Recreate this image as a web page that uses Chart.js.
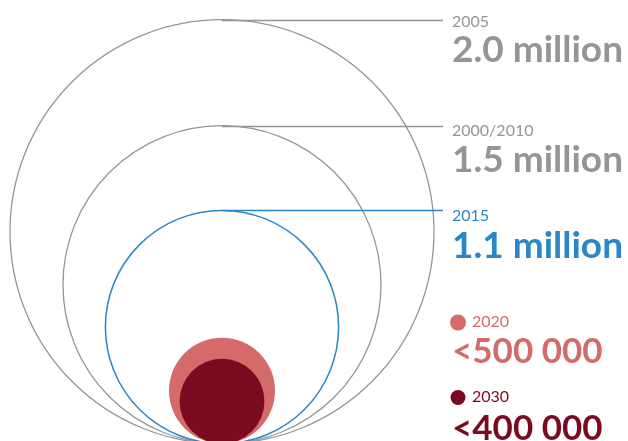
<!DOCTYPE html>
<html>
<head>
<meta charset="utf-8">
<script src="https://cdn.jsdelivr.net/npm/chart.js@4"></script>
<style>
  html, body { margin: 0; padding: 0; background: #fff; }
  #wrap { width: 628px; height: 441px; }
</style>
</head>
<body>
<div id="wrap"><canvas id="circles-chart" width="628" height="441"></canvas></div>
<script>
// data (values in millions)
const years = ['2005', '2000/2010', '2015', '2020', '2030'];
const values = [2.0, 1.5, 1.1, 0.5, 0.4];
const valueLabels = ['2.0 million', '1.5 million', '1.1 million', '<500 000', '<400 000'];

const GREY = '#949597';
const BLUE = '#2a86c6';
const LIGHT_RED = '#d56a6a';
const DARK_RED = '#7a0a1f';
const colors = [GREY, GREY, BLUE, LIGHT_RED, DARK_RED];

// pixels per million, same on both axes so circles stay round
const PX = 106;
const W = 628, H = 441, CX = 222;

// text baselines for the label column
const smallBase = [27, 136, 221, 327, 402];
const bigBase = [62, 172, 258, 363, 440];

const labelsPlugin = {
    id: 'circleLabels',
    afterDatasetsDraw(chart) {
        const ctx = chart.ctx;
        const xs = chart.scales.x;
        const ys = chart.scales.y;
        const textX = 452;
        ctx.save();
        values.forEach(function (v, i) {
            if (i < 3) {
                // leader line from the top of the circle
                const top = Math.round(ys.getPixelForValue(2 * v)) + 0.5;
                ctx.strokeStyle = colors[i];
                ctx.lineWidth = i === 2 ? 1.5 : 1.3;
                ctx.beginPath();
                ctx.moveTo(xs.getPixelForValue(0), top);
                ctx.lineTo(443, top);
                ctx.stroke();
            }
            ctx.fillStyle = colors[i];
            ctx.textBaseline = 'alphabetic';
            ctx.textAlign = 'left';
            let smallX = textX;
            if (i >= 3) {
                ctx.beginPath();
                ctx.arc(458, smallBase[i] - 4.5, i === 3 ? 8 : 7.5, 0, Math.PI * 2);
                ctx.fill();
                smallX = 472;
            }
            ctx.font = '16px Lato';
            ctx.fillText(years[i], smallX, smallBase[i]);
            ctx.font = i < 3 ? 'bold 37px Lato' : 'bold 35px Lato';
            ctx.fillText(valueLabels[i], textX, bigBase[i]);
        });
        ctx.restore();
    }
};

const chartCanvas = document.getElementById('circles-chart').getContext('2d');

new Chart(chartCanvas, {
    type: 'scatter',
    data: {
        datasets: [{
            data: values.map(v => ({ x: 0, y: v })),
            showLine: false,
            pointBackgroundColor: ['rgba(0,0,0,0)', 'rgba(0,0,0,0)', 'rgba(0,0,0,0)', LIGHT_RED, DARK_RED],
            pointBorderColor: [GREY, GREY, BLUE, LIGHT_RED, DARK_RED],
            pointBorderWidth: [1.3, 1.3, 1.5, 0, 0],
            // radius equals the value, measured on the y scale
            pointRadius: function (c) {
                const ys = c.chart.scales.y;
                const v = values[c.dataIndex];
                const r = ys.getPixelForValue(0) - ys.getPixelForValue(v);
                return isFinite(r) ? r : 0;
            },
            clip: false
        }]
    },
    options: {
        responsive: false,
        animation: false,
        events: [],
        layout: { padding: 0 },
        scales: {
            x: { display: false, min: -CX / PX, max: (W - CX) / PX },
            y: { display: false, min: 0.025, max: 0.025 + H / PX }
        },
        plugins: {
            legend: { display: false },
            tooltip: { enabled: false }
        }
    },
    plugins: [labelsPlugin]
});
</script>
</body>
</html>
